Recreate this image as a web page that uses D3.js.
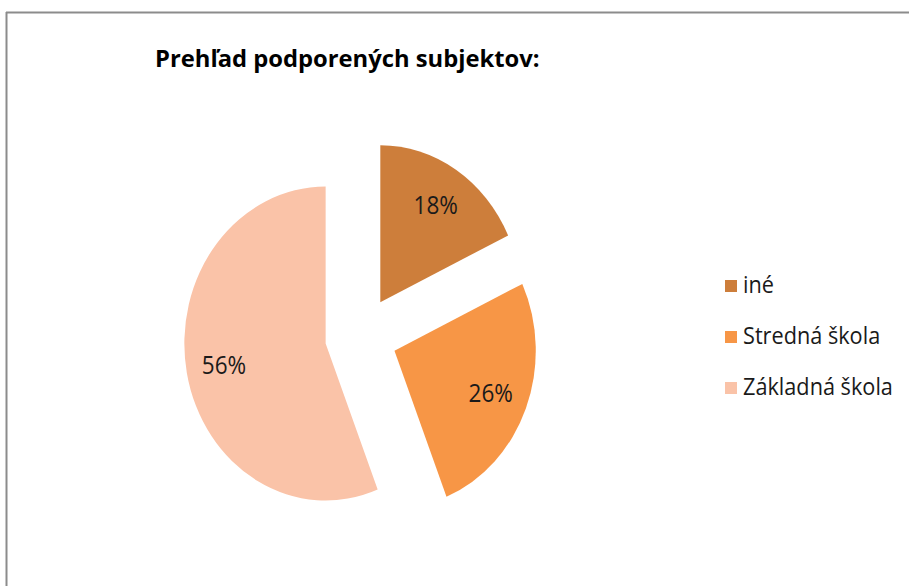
<!DOCTYPE html>
<html><head><meta charset="utf-8">
<script src="https://cdn.jsdelivr.net/npm/d3@7"></script>
<style>html,body{margin:0;padding:0;background:#fff;}</style>
</head><body>
<svg id="c" width="909" height="586"></svg>
<script>
const categories = ["iné", "Stredná škola", "Základná škola"];
const values = [18, 26, 56];
const colors = ["#CD7E3B", "#F79646", "#FAC3A8"];
const title = "Prehľad podporených subjektov:";

const svg = d3.select("#c");
const W = 909, H = 586;
svg.append("rect").attr("width", W).attr("height", H).attr("fill", "#fff");
svg.append("line").attr("x1", 6).attr("y1", 12.5).attr("x2", W).attr("y2", 12.5).attr("stroke", "#8c8c8c").attr("stroke-width", 2);
svg.append("line").attr("x1", 6.5).attr("y1", 12).attr("x2", 6.5).attr("y2", H).attr("stroke", "#8c8c8c").attr("stroke-width", 2);

const font = "'Open Sans', 'Liberation Sans', sans-serif";

// title
const t = svg.append("text").text(title).attr("y", 67)
  .attr("font-family", font).attr("font-weight", "bold").attr("font-size", 23).attr("fill", "#000");
const tw = t.node().getComputedTextLength();
t.attr("transform", `translate(155,0) scale(${385 / tw},1)`).attr("x", 0);

// pie
const sx = 0.9, cx = 361, cy = 336, r = 157, off = 40;
const pie = d3.pie().sort(null).value(d => d)(values);
const arc = d3.arc().innerRadius(0).outerRadius(r);
const g = svg.append("g").attr("transform", `translate(${cx},${cy}) scale(${sx},1)`);
const labelArc = d3.arc().innerRadius(115).outerRadius(115);
pie.forEach((p, i) => {
  const mid = (p.startAngle + p.endAngle) / 2;
  const dx = off * Math.sin(mid), dy = -off * Math.cos(mid);
  const sg = g.append("g").attr("transform", `translate(${dx},${dy})`);
  sg.append("path").attr("d", arc(p)).attr("fill", colors[i]);
  const c = labelArc.centroid(p);
  sg.append("text").attr("x", c[0]).attr("y", c[1]).attr("dy", "0.36em")
    .attr("text-anchor", "middle").attr("font-family", font).attr("font-size", 25)
    .attr("fill", "#1a1a1a").text(Math.round(p.value / d3.sum(values) * 100) + "%");
});

// legend
const ly = [286, 337, 388];
const lt = [];
categories.forEach((c, i) => {
  svg.append("rect").attr("x", 725).attr("y", ly[i] - 6).attr("width", 12).attr("height", 12).attr("fill", colors[i]);
  lt.push(svg.append("text").attr("y", ly[i] + 7.5).attr("font-family", font).attr("font-size", 23)
    .attr("fill", "#1a1a1a").text(c));
});
const lw = lt[2].node().getComputedTextLength();
lt.forEach(tx => tx.attr("transform", `translate(743,0) scale(${150 / lw},1)`).attr("x", 0));
</script>
</body></html>
